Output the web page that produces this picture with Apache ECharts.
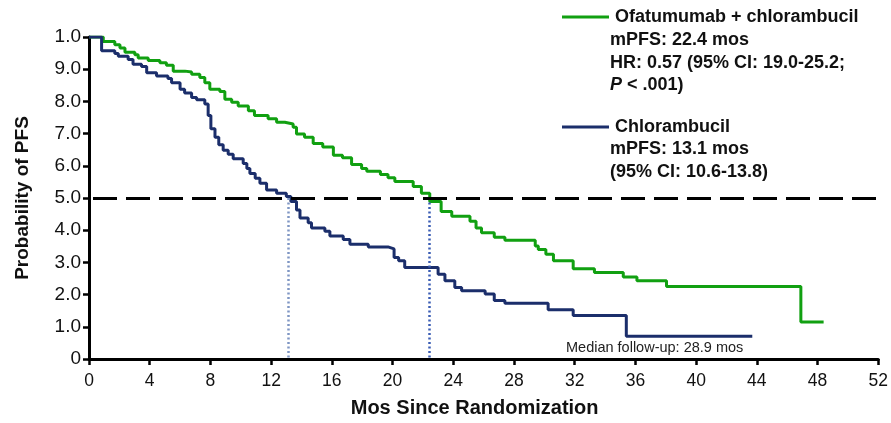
<!DOCTYPE html>
<html>
<head>
<meta charset="utf-8">
<script src="https://cdn.jsdelivr.net/npm/echarts@6/dist/echarts.min.js"></script>
<style>
  html, body { margin: 0; padding: 0; background: #ffffff; }
  #chart { width: 891px; height: 423px; }
</style>
</head>
<body>
<div id="chart"></div>
<script>
// Kaplan-Meier estimates: time (months) at which the curve steps, and the survival level after the step
const ofaTimes = [0, 0.94, 1.7, 2.04, 2.37, 3.02, 3.24, 3.9, 4.67, 5.1, 5.55, 6.32, 6.76, 7.3, 7.63, 7.96,
  8.62, 8.95, 9.4, 9.83, 10.5, 10.9, 11.8, 12.36, 12.9, 13.45, 13.67, 14.2, 14.77, 15.4, 16.1, 16.7,
  17.3, 17.96, 18.3, 19.2, 19.7, 20.15, 21.36, 21.9, 22.45, 23.2, 23.9, 25.1, 25.5, 25.86, 26.7, 27.4,
  29.4, 29.6, 30.1, 30.6, 31.9, 33.3, 35.2, 36.1, 38.05, 46.9, 48.4];
const ofaSurv = [1.0, 0.986, 0.976, 0.966, 0.953, 0.945, 0.935, 0.927, 0.92, 0.912, 0.894, 0.891, 0.884, 0.874, 0.858, 0.838,
  0.831, 0.807, 0.797, 0.786, 0.771, 0.756, 0.746, 0.735, 0.73, 0.72, 0.699, 0.689, 0.669, 0.658, 0.633, 0.625,
  0.604, 0.592, 0.583, 0.573, 0.563, 0.551, 0.536, 0.515, 0.489, 0.458, 0.443, 0.428, 0.407, 0.392, 0.378, 0.369,
  0.351, 0.34, 0.325, 0.305, 0.28, 0.269, 0.255, 0.243, 0.225, 0.115, 0.115];

const chlTimes = [0, 0.83, 1.7, 1.93, 2.58, 2.9, 3.46, 3.8, 4.45, 5.2, 5.44, 6.0, 6.3, 6.76, 7.09, 7.63,
  7.85, 8.03, 8.3, 8.55, 8.84, 9.17, 9.5, 10.16, 10.4, 10.6, 10.95, 11.26, 11.7, 12.36, 13.0, 13.3,
  13.67, 13.9, 14.44, 14.66, 15.54, 15.87, 16.75, 17.19, 18.4, 19.7, 20.1, 20.4, 20.8, 23.0, 23.45,
  24.1, 24.55, 26.1, 26.7, 27.4, 30.25, 31.9, 35.4, 43.7];
const chlSurv = [1.0, 0.957, 0.949, 0.94, 0.93, 0.915, 0.908, 0.889, 0.879, 0.871, 0.858, 0.838, 0.826, 0.812, 0.805, 0.792,
  0.756, 0.715, 0.689, 0.665, 0.648, 0.636, 0.622, 0.607, 0.592, 0.576, 0.561, 0.546, 0.525, 0.515, 0.505, 0.489,
  0.463, 0.438, 0.423, 0.407, 0.397, 0.382, 0.371, 0.356, 0.348, 0.342, 0.315, 0.305, 0.284, 0.263, 0.243,
  0.222, 0.212, 0.202, 0.182, 0.173, 0.153, 0.135, 0.071, 0.071];

// Axis tick labels as printed on the chart
const yTickLabels = ['0', '1.0', '2.0', '3.0', '4.0', '5.0', '6.0', '7.0', '8.0', '9.0', '1.0'];
const xTicks = [0, 4, 8, 12, 16, 20, 24, 28, 32, 36, 40, 44, 48, 52];

// Medians and reference level
const medianOfa = 22.4;
const medianChl = 13.1;
const halfLevel = 0.5;

const seriesNames = ['Ofatumumab + chlorambucil', 'Chlorambucil'];
const ofaNotes = ['mPFS: 22.4 mos', 'HR: 0.57 (95% CI: 19.0-25.2;'];
const chlNotes = ['mPFS: 13.1 mos', '(95% CI: 10.6-13.8)'];
const followUpNote = 'Median follow-up: 28.9 mos';

const GREEN = '#11a011';
const NAVY = '#1b2e6b';
const FONT = '"Liberation Sans", Arial, Helvetica, sans-serif';

const zip = (xs, ys) => xs.map((x, i) => [x, ys[i]]);

const chart = echarts.init(document.getElementById('chart'), null, { renderer: 'canvas' });

const noteStyle = { fontFamily: FONT, fontWeight: 'bold', fontSize: 18, fill: '#111' };

chart.setOption({
  animation: false,
  grid: { left: 89, right: 12.5, top: 37, bottom: 61, containLabel: false },
  legend: {
    orient: 'vertical',
    left: 557,
    top: 3,
    itemGap: 92,
    itemWidth: 47,
    itemHeight: 3,
    icon: 'rect',
    selectedMode: false,
    textStyle: { fontFamily: FONT, fontWeight: 'bold', fontSize: 18, color: '#111', padding: [0, 0, 0, 1] },
    data: seriesNames
  },
  xAxis: {
    type: 'value',
    min: 0, max: 52, interval: 4,
    name: 'Mos Since Randomization',
    nameLocation: 'middle',
    nameGap: 39,
    nameTextStyle: { fontFamily: FONT, fontWeight: 'bold', fontSize: 20, color: '#111', padding: [0, 18, 0, 0] },
    axisLine: { lineStyle: { color: '#000', width: 3 } },
    axisTick: { length: 6, lineStyle: { color: '#000', width: 2.5 } },
    axisLabel: {
      fontFamily: FONT, fontSize: 17.5, color: '#111', margin: 13,
      formatter: v => (xTicks.indexOf(v) >= 0 ? String(v) : '')
    },
    splitLine: { show: false }
  },
  yAxis: {
    type: 'value',
    min: 0, max: 1, interval: 0.1,
    name: 'Probability of PFS',
    nameLocation: 'middle',
    nameGap: 57,
    nameTextStyle: { fontFamily: FONT, fontWeight: 'bold', fontSize: 19, color: '#111' },
    axisLine: { show: true, lineStyle: { color: '#000', width: 3 } },
    axisTick: { show: true, length: 6, lineStyle: { color: '#000', width: 2.5 } },
    axisLabel: {
      fontFamily: FONT, fontSize: 19, color: '#111', margin: 8,
      formatter: v => yTickLabels[Math.round(v * 10)]
    },
    splitLine: { show: false }
  },
  series: [
    {
      name: seriesNames[0],
      type: 'line',
      step: 'end',
      symbol: 'none',
      color: GREEN,
      lineStyle: { color: GREEN, width: 3 },
      data: zip(ofaTimes, ofaSurv),
      z: 3,
      markLine: {
        silent: true,
        symbol: 'none',
        label: { show: false },
        data: [
          [{ coord: [medianOfa, halfLevel] }, { coord: [medianOfa, 0] }]
        ],
        lineStyle: { color: '#3a5cb4', width: 2.5, type: [2, 2.5] }
      }
    },
    {
      name: seriesNames[1],
      type: 'line',
      step: 'end',
      symbol: 'none',
      color: NAVY,
      lineStyle: { color: NAVY, width: 3 },
      data: zip(chlTimes, chlSurv),
      z: 3,
      markLine: {
        silent: true,
        symbol: 'none',
        label: { show: false },
        data: [
          [{ coord: [medianChl, halfLevel] }, { coord: [medianChl, 0] }],
          [{ yAxis: halfLevel, x: 89 + 4, lineStyle: { color: '#000', width: 3, type: [24, 9] } },
           { yAxis: halfLevel, x: 878.5 }]
        ],
        lineStyle: { color: '#7f96c4', width: 2.5, type: [2, 2.5] }
      }
    }
  ],
  graphic: [
    { type: 'text', left: 610, top: 31, style: Object.assign({ text: ofaNotes[0] }, noteStyle) },
    { type: 'text', left: 610, top: 54, style: Object.assign({ text: ofaNotes[1] }, noteStyle) },
    {
      type: 'text', left: 610, top: 76,
      style: {
        text: '{i|P} < .001)',
        fontFamily: FONT, fontWeight: 'bold', fontSize: 18, fill: '#111',
        rich: { i: { fontFamily: FONT, fontWeight: 'bold', fontStyle: 'italic', fontSize: 18, fill: '#111' } }
      }
    },
    { type: 'text', left: 610, top: 140, style: Object.assign({ text: chlNotes[0] }, noteStyle) },
    { type: 'text', left: 610, top: 163, style: Object.assign({ text: chlNotes[1] }, noteStyle) },
    {
      type: 'text', left: 566, top: 340,
      style: { text: followUpNote, fontFamily: FONT, fontSize: 14.5, fill: '#222' }
    }
  ]
});
</script>
</body>
</html>
